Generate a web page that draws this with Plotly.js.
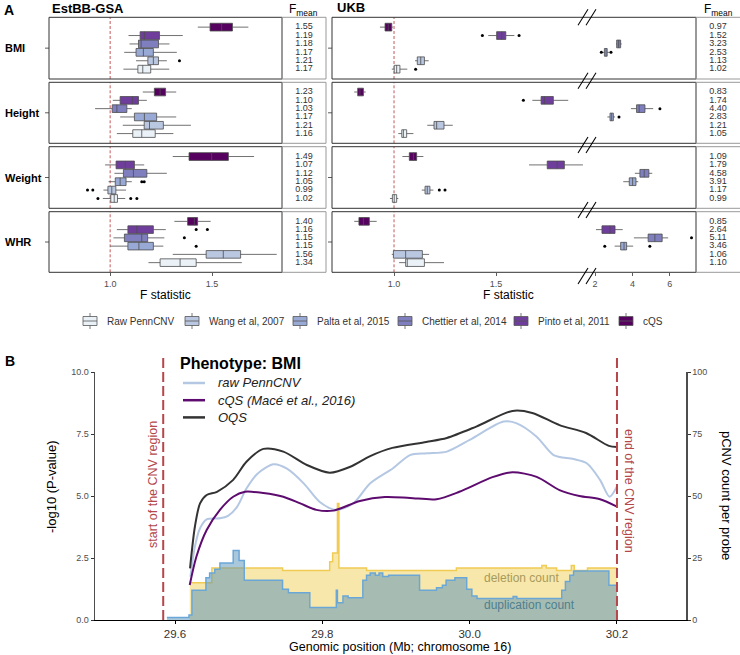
<!DOCTYPE html>
<html>
<head>
<meta charset="utf-8">
<script src="https://cdn.plot.ly/plotly-3.0.1.min.js"></script>
<style>
  body { margin: 0; background: #fff; }
  #fig { width: 740px; height: 655px; }
</style>
</head>
<body>
<div id="fig"></div>
<script>
// ---- panel A data ------------------------------------------------------
// methods from bottom to top inside each facet
const methods = ['Raw PennCNV', 'Wang et al, 2007', 'Palta et al, 2015', 'Chettier et al, 2014', 'Pinto et al, 2011', 'cQS'];
const methodColors = ['#eaf2f8', '#b9c7e1', '#98a9d5', '#7f7fbf', '#6f3d9c', '#560060'];
const phenotypes = ['BMI', 'Height', 'Weight', 'WHR'];

// box stats per method: [lower whisker, q1, median, q3, upper whisker]
const estBMI = [[1.065, 1.136, 1.160, 1.199, 1.290], [1.127, 1.185, 1.212, 1.237, 1.278], [1.069, 1.127, 1.163, 1.212, 1.327],
  [1.095, 1.139, 1.152, 1.237, 1.291], [1.090, 1.147, 1.168, 1.242, 1.356], [1.430, 1.490, 1.547, 1.600, 1.678]];
const estHeight = [[1.033, 1.111, 1.155, 1.221, 1.310], [1.062, 1.167, 1.193, 1.261, 1.396], [1.049, 1.119, 1.168, 1.228, 1.324],
  [0.926, 1.010, 1.033, 1.082, 1.106], [1.013, 1.049, 1.109, 1.139, 1.180], [1.160, 1.217, 1.245, 1.272, 1.324]];
const estWeight = [[0.964, 1.003, 1.020, 1.036, 1.074], [0.967, 0.989, 1.008, 1.028, 1.078], [0.992, 1.025, 1.049, 1.078, 1.106],
  [1.021, 1.065, 1.114, 1.180, 1.278], [0.975, 1.029, 1.074, 1.119, 1.167], [1.307, 1.387, 1.498, 1.580, 1.706]];
const estWHR = [[1.188, 1.245, 1.343, 1.422, 1.646], [1.307, 1.471, 1.555, 1.640, 1.817], [1.000, 1.087, 1.141, 1.212, 1.261],
  [1.016, 1.070, 1.155, 1.184, 1.266], [1.033, 1.087, 1.131, 1.212, 1.273], [1.315, 1.380, 1.413, 1.429, 1.493]];
const estFmean = [[1.17, 1.21, 1.17, 1.18, 1.19, 1.55], [1.16, 1.21, 1.17, 1.03, 1.10, 1.23],
  [1.02, 0.99, 1.05, 1.12, 1.07, 1.49], [1.34, 1.56, 1.15, 1.15, 1.16, 1.40]];
// [phenotype, method, value]
const estOutliers = [[0, 1, 1.340], [2, 2, 1.155], [2, 2, 1.167], [2, 1, 0.889], [2, 1, 0.915], [2, 0, 0.940], [2, 0, 1.101],
  [2, 0, 1.131], [3, 4, 1.422], [3, 4, 1.477], [3, 3, 1.364], [3, 2, 1.422]];

const ukbBMI = [[0.989, 1.001, 1.013, 1.029, 1.065], [1.103, 1.114, 1.131, 1.149, 1.170], [2.41, 2.50, 2.587, 2.65, 2.76],
  [3.12, 3.157, 3.264, 3.369, 3.424], [1.462, 1.503, 1.528, 1.548, 1.590], [0.931, 0.956, 0.972, 0.989, 0.994]];
const ukbHeight = [[1.021, 1.038, 1.046, 1.062, 1.095], [1.163, 1.196, 1.209, 1.245, 1.288], [2.66, 2.80, 2.89, 2.98, 3.07],
  [3.92, 4.22, 4.36, 4.67, 5.11], [1.678, 1.721, 1.737, 1.781, 1.854], [0.805, 0.822, 0.833, 0.850, 0.861]];
const ukbWeight = [[0.980, 0.992, 1.001, 1.013, 1.021], [1.136, 1.152, 1.163, 1.176, 1.193], [3.51, 3.83, 4.01, 4.19, 4.31],
  [4.13, 4.40, 4.63, 4.88, 5.06], [1.662, 1.751, 1.800, 1.835, 1.926], [1.041, 1.075, 1.095, 1.111, 1.144]];
const ukbWHR = [[1.025, 1.057, 1.065, 1.149, 1.245], [0.989, 0.997, 1.057, 1.139, 1.172], [3.05, 3.37, 3.55, 3.69, 4.04],
  [4.08, 4.84, 5.20, 5.59, 5.91], [2.05, 2.37, 2.80, 3.07, 3.48], [0.805, 0.828, 0.850, 0.879, 0.915]];
const ukbFmean = [[1.02, 1.13, 2.53, 3.23, 1.52, 0.97], [1.05, 1.21, 2.83, 4.40, 1.74, 0.83],
  [0.99, 1.17, 3.91, 4.58, 1.79, 1.09], [1.10, 1.06, 3.46, 5.11, 2.64, 0.85]];
const ukbOutliers = [[0, 0, 1.106], [0, 4, 1.433], [0, 4, 1.613], [0, 2, 2.336], [0, 2, 2.853], [1, 4, 1.634], [1, 3, 5.47],
  [1, 2, 3.28], [2, 1, 1.222], [2, 1, 1.250], [3, 3, 7.16], [3, 2, 2.52], [3, 2, 4.93]];

// ---- panel B data ------------------------------------------------------
const cnvStart = 29.584, cnvEnd = 30.2;
const delPos = [29.620, 29.650, 29.746, 29.810, 29.814, 29.8205, 29.8225, 29.860, 29.982, 30.098, 30.104, 30.118, 30.138, 30.142, 30.160, 30.200];
const delCount = [15, 21, 20, 23.5, 27, 47, 21, 20, 21, 22, 21, 20, 22, 20, 21, 21];
const dupPos = [29.589, 29.619, 29.623, 29.642, 29.647, 29.654, 29.661, 29.679, 29.687, 29.694,
  29.746, 29.754, 29.783, 29.819, 29.8205, 29.828, 29.835, 29.855, 29.860, 29.865,
  29.872, 29.877, 29.882, 29.890, 29.932, 29.955, 29.963, 29.968, 29.980, 29.996,
  30.003, 30.010, 30.059, 30.064, 30.125, 30.130, 30.136, 30.141, 30.189, 30.200];
const dupCount = [1, 2, 12, 17, 19, 20.5, 23, 28, 24, 16,
  12.4, 11, 5, 12, 7, 9.7, 9, 16, 18, 19,
  18, 19, 17.5, 18, 12, 13, 14, 16, 17, 12.4,
  9.7, 8.7, 9.5, 8.7, 12, 15.5, 18, 19.8, 14, 14];

const rawPos = [29.621, 29.627, 29.634, 29.643, 29.661, 29.672, 29.684, 29.697, 29.712, 29.734, 29.752, 29.775, 29.797, 29.819, 29.842,
  29.865, 29.896, 29.919, 29.942, 29.969, 30.000, 30.046, 30.064, 30.091, 30.114, 30.141, 30.159, 30.177, 30.190, 30.200];
const rawP = [1.75, 2.96, 3.70, 4.06, 4.10, 4.20, 4.55, 5.30, 5.90, 6.28, 6.10, 5.50, 4.75, 4.44, 4.70,
  5.51, 6.12, 6.65, 6.72, 6.79, 7.26, 8.00, 7.93, 7.39, 6.65, 6.49, 6.32, 5.65, 4.97, 5.38];
const cqsPos = [29.620, 29.629, 29.643, 29.661, 29.679, 29.695, 29.720, 29.747, 29.770, 29.792, 29.815, 29.851,
  29.885, 29.919, 29.955, 29.986, 30.031, 30.058, 30.091, 30.122, 30.149, 30.177, 30.200];
const cqsP = [1.41, 2.55, 3.63, 4.44, 4.97, 5.17, 5.12, 4.97, 4.70, 4.44, 4.41, 4.80,
  4.96, 4.92, 4.87, 5.17, 5.76, 5.96, 5.77, 5.24, 5.00, 4.87, 4.57];
const oqsPos = [29.6204, 29.627, 29.634, 29.643, 29.657, 29.679, 29.697, 29.720, 29.747, 29.779, 29.810, 29.838,
  29.865, 29.895, 29.941, 29.969, 30.009, 30.058, 30.085, 30.122, 30.158, 30.189, 30.200];
const oqsP = [2.08, 3.76, 4.70, 5.04, 5.17, 5.65, 6.38, 6.90, 6.79, 6.25, 5.94, 6.18,
  6.61, 6.94, 7.18, 7.34, 7.80, 8.43, 8.35, 7.86, 7.54, 7.02, 6.98];
const curveNames = ['raw PennCNV', 'cQS (Macé et al., 2016)', 'OQS'];
const curveColors = ['#b4c7e3', '#5e0b6f', '#333333'];

// ---- helpers -----------------------------------------------------------
const px = v => v / 740;
const py = v => 1 - v / 655;
const FONT = 'Liberation Sans, Arial, sans-serif';
const rowTop = [17.3, 82.3, 146.7, 211.7];
const rowBot = [79, 143.3, 208.3, 272.3];

function box(s, pos, xa, ya, color) {
  return {
    type: 'box', orientation: 'h', y: [pos],
    lowerfence: [s[0]], q1: [s[1]], median: [s[2]], q3: [s[3]], upperfence: [s[4]],
    xaxis: xa, yaxis: ya, width: 0.92, fillcolor: color,
    line: {color: '#4d4d4d', width: 0.8}, whiskerwidth: 0, boxpoints: false,
    hoverinfo: 'skip', showlegend: false
  };
}
function dots(list, r, xa, ya, keep) {
  const p = list.filter(o => o[0] === r && keep(o[2]));
  return {
    type: 'scatter', mode: 'markers', x: p.map(o => o[2]), y: p.map(o => o[1] + 1),
    xaxis: xa, yaxis: ya, marker: {color: '#000', size: 3}, hoverinfo: 'skip', showlegend: false
  };
}
function fmeanText(vals, xa, ya) {
  return {
    type: 'scatter', mode: 'text', x: vals.map(() => 0.5), y: vals.map((v, k) => k + 1),
    text: vals.map(v => v.toFixed(2)), xaxis: xa, yaxis: ya,
    textfont: {size: 9, color: '#333', family: FONT}, hoverinfo: 'skip', showlegend: false
  };
}

const data = [];
const estStats = [estBMI, estHeight, estWeight, estWHR];
const ukbStats = [ukbBMI, ukbHeight, ukbWeight, ukbWHR];
phenotypes.forEach((ph, r) => {
  const ya = r === 0 ? 'y' : 'y' + (r + 1);
  methods.forEach((m, k) => {
    data.push(box(estStats[r][k], k + 1, 'x', ya, methodColors[k]));
    const s = ukbStats[r][k];
    data.push(box(s, k + 1, s[2] > 2 ? 'x4' : 'x3', ya, methodColors[k]));
  });
  data.push(dots(estOutliers, r, 'x', ya, v => true));
  data.push(dots(ukbOutliers, r, 'x3', ya, v => v < 1.95));
  data.push(dots(ukbOutliers, r, 'x4', ya, v => v >= 1.95));
  data.push(fmeanText(estFmean[r], 'x2', ya));
  data.push(fmeanText(ukbFmean[r], 'x5', ya));
});

// panel B: counts on y5 (right), p-values on y6 (left, overlaid)
data.push({type: 'scatter', mode: 'lines', x: delPos, y: delCount, xaxis: 'x6', yaxis: 'y5',
  line: {shape: 'hv', color: '#f0cc55', width: 1.5}, fill: 'tozeroy', fillcolor: 'rgba(240,212,100,0.55)',
  hoverinfo: 'skip', showlegend: false});
data.push({type: 'scatter', mode: 'lines', x: dupPos, y: dupCount, xaxis: 'x6', yaxis: 'y5',
  line: {shape: 'hv', color: '#6ba7d6', width: 1.5}, fill: 'tozeroy', fillcolor: 'rgba(85,145,185,0.5)',
  hoverinfo: 'skip', showlegend: false});
[[rawPos, rawP], [cqsPos, cqsP], [oqsPos, oqsP]].forEach((c, i) => {
  data.push({type: 'scatter', mode: 'lines', x: c[0], y: c[1], xaxis: 'x6', yaxis: 'y6', name: curveNames[i],
    line: {shape: 'spline', smoothing: 0.8, color: curveColors[i], width: 2}, hoverinfo: 'skip', showlegend: false});
});

// ---- layout ------------------------------------------------------------
const xTick = {ticks: 'outside', ticklen: 3, tickwidth: 0.8, tickcolor: '#333',
  tickfont: {size: 9, color: '#4d4d4d'}, showgrid: false, zeroline: false, showline: false, anchor: 'y4'};
const layout = {
  width: 740, height: 655, margin: {l: 0, r: 0, t: 0, b: 0},
  paper_bgcolor: '#fff', plot_bgcolor: 'rgba(0,0,0,0)',
  font: {family: FONT, color: '#000'}, showlegend: false, hovermode: false,
  xaxis: Object.assign({}, xTick, {domain: [px(49), px(282)], range: [0.70, 1.843], tickvals: [1, 1.5], ticktext: ['1.0', '1.5']}),
  xaxis2: {domain: [px(282), px(326)], range: [0, 1], anchor: 'y4', visible: false},
  xaxis3: Object.assign({}, xTick, {domain: [px(332), px(587)], range: [0.696, 1.946], tickvals: [1, 1.5], ticktext: ['1.0', '1.5']}),
  xaxis4: Object.assign({}, xTick, {domain: [px(587), px(696)], range: [1.57, 7.4], tickvals: [2, 4, 6]}),
  xaxis5: {domain: [px(696), 1], range: [0, 1], anchor: 'y4', visible: false},
  xaxis6: {domain: [px(95), px(686)], range: [29.4914, 30.2937], anchor: 'y5',
    tickvals: [29.6, 29.8, 30.0, 30.2], ticktext: ['29.6', '29.8', '30.0', '30.2'],
    ticks: 'outside', ticklen: 3, tickcolor: '#000', tickfont: {size: 11.5, color: '#333'},
    showline: true, linecolor: '#000', linewidth: 1.2, showgrid: false, zeroline: false},
  yaxis5: {domain: [py(620), py(372)], range: [0, 100], anchor: 'x6', side: 'right',
    tickvals: [0, 25, 50, 75, 100], ticks: 'outside', ticklen: 3, tickcolor: '#333',
    tickfont: {size: 9, color: '#4d4d4d'}, showline: true, linecolor: '#4d4d4d', linewidth: 1.5,
    showgrid: false, zeroline: false},
  yaxis6: {overlaying: 'y5', side: 'left', anchor: 'x6', range: [0, 10],
    tickvals: [0, 2.5, 5, 7.5, 10], ticktext: ['0.0', '2.5', '5.0', '7.5', '10.0'],
    ticks: 'outside', ticklen: 3, tickcolor: '#333', tickfont: {size: 9, color: '#4d4d4d'},
    showline: true, linecolor: '#4d4d4d', linewidth: 1.5, showgrid: false, zeroline: false},
  shapes: [], annotations: []
};
phenotypes.forEach((ph, r) => {
  layout[r === 0 ? 'yaxis' : 'yaxis' + (r + 1)] = {domain: [py(rowBot[r]), py(rowTop[r])], range: [-0.17, 7.17], anchor: 'x', visible: false};
});

const shapes = layout.shapes, ann = layout.annotations;
const txt = (text, x, y, opt) => ann.push(Object.assign({text: text, x: px(x), y: py(y), xref: 'paper', yref: 'paper',
  showarrow: false, xanchor: 'center', yanchor: 'middle', font: {size: 12, color: '#000', family: FONT}}, opt || {}));
const seg = (x0, y0, x1, y1, line) => shapes.push({type: 'line', xref: 'paper', yref: 'paper',
  x0: px(x0), y0: py(y0), x1: px(x1), y1: py(y1), line: line});

// facet borders, dashed F = 1 line, row labels
phenotypes.forEach((ph, r) => {
  [[49, 282, '#333'], [282, 326, '#999'], [332, 696, '#333'], [696, 741, '#999']].forEach(b => {
    shapes.push({type: 'rect', xref: 'paper', yref: 'paper', x0: px(b[0]), x1: px(b[1]), y0: py(rowBot[r]), y1: py(rowTop[r]),
      line: {color: b[2], width: 1}});
  });
  ['x', 'x3'].forEach(xa => shapes.push({type: 'line', xref: xa, yref: 'paper', x0: 1, x1: 1,
    y0: py(rowBot[r]), y1: py(rowTop[r]), layer: 'below', line: {color: '#c45a5a', width: 1, dash: '3px,2px'}}));
  const mid = (rowTop[r] + rowBot[r]) / 2;
  seg(45, mid, 49, mid, {color: '#333', width: 0.8});
  seg(328, mid, 332, mid, {color: '#333', width: 0.8});
  txt('<b>' + ph + '</b>', 3, mid, {xanchor: 'left', font: {size: 11, color: '#000', family: FONT}});
});
// axis break marks
[17.3, 80.7, 145, 210, 276].forEach(c => {
  seg(578, c + 8, 588, c - 8, {color: '#000', width: 1.1});
  seg(586, c + 8, 596, c - 8, {color: '#000', width: 1.1});
});

txt('<b>A</b>', 2, 10, {xanchor: 'left', font: {size: 14, color: '#000', family: FONT}});
txt('<b>EstBB-GSA</b>', 50, 9, {xanchor: 'left', font: {size: 13, color: '#000', family: FONT}});
txt('<b>UKB</b>', 335, 8, {xanchor: 'left', font: {size: 13, color: '#000', family: FONT}});
txt('F<sub>mean</sub>', 303, 10, {font: {size: 12, color: '#000', family: FONT}});
txt('F<sub>mean</sub>', 718, 10, {font: {size: 12, color: '#000', family: FONT}});
txt('F statistic', 165.5, 295);
txt('F statistic', 508, 295);

// panel A legend, drawn by hand with box glyphs
const legX = [83, 185, 293, 398, 514, 619];
methods.forEach((m, k) => {
  const x = legX[k];
  shapes.push({type: 'rect', xref: 'paper', yref: 'paper', x0: px(x), x1: px(x + 14), y0: py(325.5), y1: py(316.5),
    fillcolor: methodColors[k], line: {color: '#555', width: 0.8}});
  seg(x, 321, x + 14, 321, {color: '#555', width: 0.8});
  seg(x + 7, 313, x + 7, 316.5, {color: '#555', width: 0.8});
  seg(x + 7, 325.5, x + 7, 329, {color: '#555', width: 0.8});
  txt(m, x + 22, 321, {xanchor: 'left', font: {size: 10, color: '#333', family: FONT}});
});

// panel B decorations
[cnvStart, cnvEnd].forEach(v => shapes.push({type: 'line', xref: 'x6', yref: 'paper', x0: v, x1: v,
  y0: py(620), y1: py(355), line: {color: '#b5474b', width: 2, dash: '10px,4px'}}));
txt('<b>B</b>', 3, 361, {xanchor: 'left', font: {size: 14, color: '#000', family: FONT}});
txt('<b>Phenotype: BMI</b>', 178, 363, {xanchor: 'left', font: {size: 16, color: '#000', family: FONT}});
curveNames.forEach((n, i) => {
  const y = 383 + i * 17.2;
  seg(183, y, 205, y, {color: curveColors[i], width: 2.5});
  txt('<i>' + n + '</i>', 216, y, {xanchor: 'left', font: {size: 13, color: '#222', family: FONT}});
});
txt('start of the CNV region', 153, 485, {textangle: -90, font: {size: 12.5, color: '#b5474b', family: FONT}});
txt('end of the CNV region', 629, 491, {textangle: 90, font: {size: 12.5, color: '#b5474b', family: FONT}});
txt('-log10 (P-value)', 51, 487, {textangle: -90, font: {size: 13, color: '#000', family: FONT}});
txt('pCNV count per probe', 727, 495, {textangle: 90, font: {size: 13, color: '#000', family: FONT}});
txt('Genomic position (Mb; chromosome 16)', 400, 647, {font: {size: 12.5, color: '#000', family: FONT}});
ann.push({text: 'deletion count', xref: 'x6', yref: 'y5', x: 30.017, y: 16.9, xanchor: 'left', showarrow: false,
  font: {size: 12, color: '#a89a5a', family: FONT}});
ann.push({text: 'duplication count', xref: 'x6', yref: 'y5', x: 30.017, y: 6.0, xanchor: 'left', showarrow: false,
  font: {size: 12, color: '#4f7f8f', family: FONT}});

Plotly.newPlot('fig', data, layout, {displayModeBar: false, staticPlot: true});
</script>
</body>
</html>
